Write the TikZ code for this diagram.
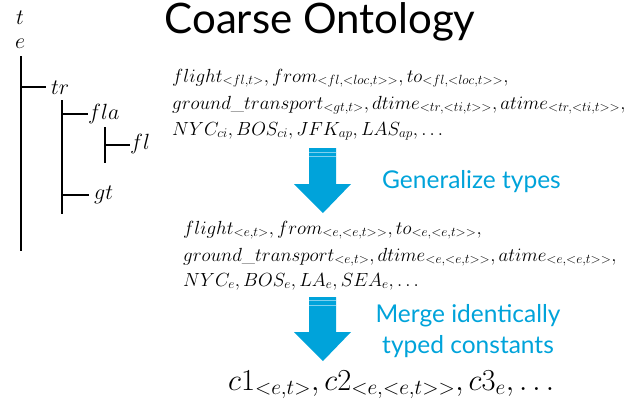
\RequirePackage{fix-cm}
\documentclass[tikz,border=0pt]{standalone}
\usepackage{fontspec}
\setsansfont{Lato}
\usepackage{amsmath}
\definecolor{arrowblue}{HTML}{00A3DA}
\definecolor{stripe}{HTML}{7FD0EE}
\begin{document}
\begin{tikzpicture}[x=1pt,y=-1pt,
  treeline/.style={line width=2.6pt},
  lbl/.style={inner sep=0pt,font=\fontsize{22}{26}\selectfont},
  mathline/.style={anchor=base west,inner sep=0pt,font=\fontsize{19}{22}\selectfont},
  bluetext/.style={text=arrowblue,font=\sffamily\fontsize{24.5}{31}\selectfont,align=center,inner sep=0pt},
  bigarrow/.style={fill=arrowblue,draw=none}]
\useasboundingbox (0,0) rectangle (638,400);
% title
\node[font=\sffamily\fontsize{42}{44}\selectfont,inner sep=0pt] (title) at (320,22) {Coarse Ontology};
% tree
\node[lbl] (t) at (20,18) {$t$};
\node[lbl] (e) at (20,44) {$e$};
\coordinate (v1a) at (21,56);
\coordinate (v1b) at (21,251);
\draw[treeline] (v1a) -- (v1b);
\coordinate (b1a) at (21,87);
\node[lbl,anchor=west] (tr) at (51,88) {$tr$};
\coordinate (b1b) at (46,87);
\draw[treeline] (b1a) -- (b1b);
\coordinate (v2a) at (62,100);
\coordinate (v2b) at (62,214);
\draw[treeline] (v2a) -- (v2b);
\node[lbl,anchor=west] (fla) at (88,114) {$fla$};
\coordinate (b2a) at (62,114);
\draw[treeline] (b2a) -- (fla.west);
\coordinate (v3a) at (105,127);
\coordinate (v3b) at (105,163);
\draw[treeline] (v3a) -- (v3b);
\node[lbl,anchor=west] (fl) at (130,144) {$fl$};
\coordinate (b3a) at (105,145);
\draw[treeline] (b3a) -- (b3a -| fl.west);
\node[lbl,anchor=west] (gt) at (94,195) {$gt$};
\coordinate (b4a) at (62,195);
\coordinate (b4b) at (89,195);
\draw[treeline] (b4a) -- (b4b);
% first block
\node[mathline] (a1) at (172,82) {$flight_{<fl,t>}, from_{<fl,<loc,t>>}, to_{<fl,<loc,t>>},$};
\node[mathline] (a2) at (172,109) {$ground\_transport_{<gt,t>}, dtime_{<tr,<ti,t>>}, atime_{<tr,<ti,t>>},$};
\node[mathline] (a3) at (172,135) {$NYC_{ci}, BOS_{ci}, JFK_{ap}, LAS_{ap}, \ldots$};
% arrow 1
\fill[bigarrow] (309,148) -- (336,148) -- (336,184) -- (351,184) -- (323,213) -- (294,184) -- (309,184) -- cycle;
\draw[stripe,line width=0.8pt] (309,152) -- (336,152) (309,156) -- (336,156);
\node[bluetext,anchor=west] (gen) at (382,182) {Generalize types};
% second block
\node[mathline] (b1) at (183,234) {$flight_{<e,t>}, from_{<e,<e,t>>}, to_{<e,<e,t>>},$};
\node[mathline] (b2) at (183,261) {$ground\_transport_{<e,t>}, dtime_{<e,<e,t>>}, atime_{<e,<e,t>>},$};
\node[mathline] (b3) at (183,286) {$NYC_{e}, BOS_{e}, LA_{e}, SEA_{e}, \ldots$};
% arrow 2
\fill[bigarrow] (309,297) -- (336,297) -- (336,332) -- (351,332) -- (323,361) -- (294,332) -- (309,332) -- cycle;
\draw[stripe,line width=0.8pt] (309,300) -- (336,300) (309,305) -- (336,305);
\node[bluetext] (merge) at (468,331) {Merge identically\\typed constants};
% result
\node[anchor=base west,inner sep=0pt,font=\fontsize{30.5}{34}\selectfont] (res) at (228,390) {$c1_{<e,t>}, c2_{<e,<e,t>>}, c3_e, \ldots$};
\end{tikzpicture}
\end{document}
